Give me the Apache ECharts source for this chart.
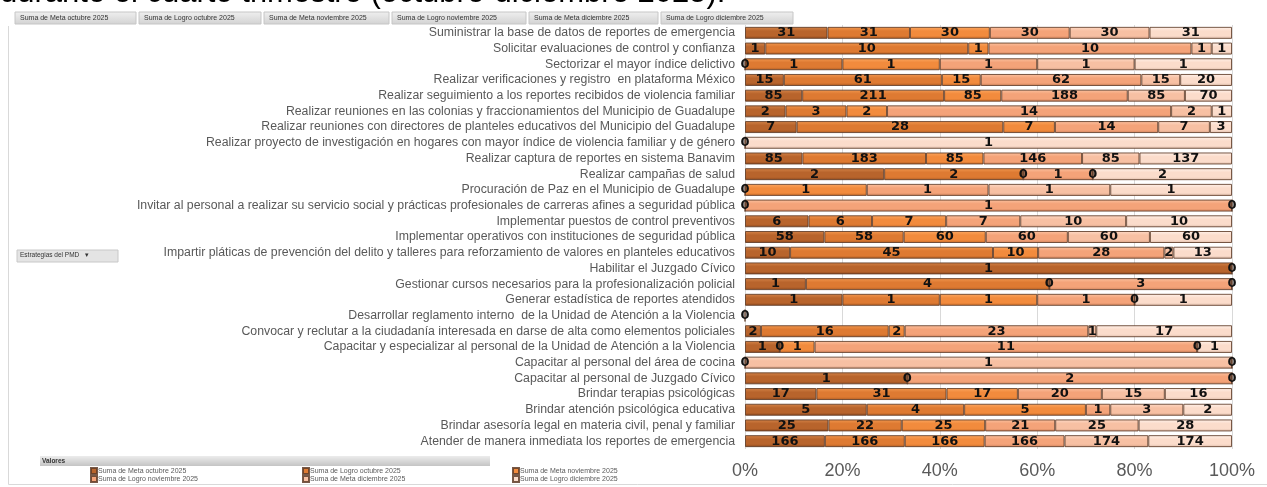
<!DOCTYPE html>
<html>
<head>
<meta charset="utf-8">
<script src="https://cdn.jsdelivr.net/npm/echarts@6/dist/echarts.min.js"></script>
<style>
html, body { margin: 0; padding: 0; background: #fff; }
#chart { width: 1267px; height: 487px; }
</style>
</head>
<body>
<div id="chart"></div>
<script>
// categorias de arriba hacia abajo
var categories = [
  "Suministrar la base de datos de reportes de emergencia",
  "Solicitar evaluaciones de control y confianza",
  "Sectorizar el mayor índice delictivo",
  "Realizar verificaciones y registro  en plataforma México",
  "Realizar seguimiento a los reportes recibidos de violencia familiar",
  "Realizar reuniones en las colonias y fraccionamientos del Municipio de Guadalupe",
  "Realizar reuniones con directores de planteles educativos del Municipio del Guadalupe",
  "Realizar proyecto de investigación en hogares con mayor índice de violencia familiar y de género",
  "Realizar captura de reportes en sistema Banavim",
  "Realizar campañas de salud",
  "Procuración de Paz en el Municipio de Guadalupe",
  "Invitar al personal a realizar su servicio social y prácticas profesionales de carreras afines a seguridad pública",
  "Implementar puestos de control preventivos",
  "Implementar operativos con instituciones de seguridad pública",
  "Impartir pláticas de prevención del delito y talleres para reforzamiento de valores en planteles educativos",
  "Habilitar el Juzgado Cívico",
  "Gestionar cursos necesarios para la profesionalización policial",
  "Generar estadística de reportes atendidos",
  "Desarrollar reglamento interno  de la Unidad de Atención a la Violencia",
  "Convocar y reclutar a la ciudadanía interesada en darse de alta como elementos policiales",
  "Capacitar y especializar al personal de la Unidad de Atención a la Violencia",
  "Capacitar al personal del área de cocina",
  "Capacitar al personal de Juzgado Cívico",
  "Brindar terapias psicológicas",
  "Brindar atención psicológica educativa",
  "Brindar asesoría legal en materia civil, penal y familiar",
  "Atender de manera inmediata los reportes de emergencia"
];

var seriesNames = [
  "Suma de Meta octubre 2025",
  "Suma de Logro octubre 2025",
  "Suma de Meta noviembre 2025",
  "Suma de Logro noviembre 2025",
  "Suma de Meta diciembre 2025",
  "Suma de Logro diciembre 2025"
];

var metaOct    = [31, 1, 0, 15, 85, 2, 7, 0, 85, 2, 0, 0, 6, 58, 10, 1, 1, 1, 0, 2, 1, 0, 1, 17, 5, 25, 166];
var logroOct   = [31, 10, 1, 61, 211, 3, 28, null, 183, 2, null, null, 6, 58, 45, 0, 4, 1, null, 16, 0, null, 0, 31, 4, 22, 166];
var metaNov    = [30, 1, 1, 15, 85, 2, 7, null, 85, 0, 1, null, 7, 60, 10, null, 0, 1, null, 2, 1, null, null, 17, 5, 25, 166];
var logroNov   = [30, 10, 1, 62, 188, 14, 14, null, 146, 1, 1, 1, 7, 60, 28, null, 3, 1, null, 23, 11, null, 2, 20, 1, 21, 166];
var metaDic    = [30, 1, 1, 15, 85, 2, 7, null, 85, 0, 1, null, 10, 60, 2, null, 0, 0, null, 1, 0, 1, null, 15, 3, 25, 174];
var logroDic   = [31, 1, 1, 20, 70, 1, 3, 1, 137, 2, 1, 0, 10, 60, 13, null, null, 1, null, 17, 1, 0, 0, 16, 2, 28, 174];

var xTicks = [0, 20, 40, 60, 80, 100];

var rawSeries = [metaOct, logroOct, metaNov, logroNov, metaDic, logroDic];

// colores con efecto bisel (arriba claro, abajo oscuro)
var shades = [
  ["#d58448", "#b8642c", "#8a461b"],
  ["#f2984f", "#de7a32", "#ad5a20"],
  ["#fca760", "#f28b3d", "#c56926"],
  ["#fcc2a0", "#f4a379", "#cd8059"],
  ["#fedac6", "#f7c0a3", "#d5a085"],
  ["#fff1e9", "#fbdccb", "#dcbba9"]
];

function grad(c) {
  return new echarts.graphic.LinearGradient(0, 0, 0, 1, [
    { offset: 0, color: c[0] },
    { offset: 0.35, color: c[1] },
    { offset: 0.75, color: c[1] },
    { offset: 1, color: c[2] }
  ]);
}

var totals = categories.map(function (c, i) {
  var t = 0;
  rawSeries.forEach(function (s) { if (s[i] != null) t += s[i]; });
  return t;
});

var series = rawSeries.map(function (arr, k) {
  return {
    name: seriesNames[k],
    type: "bar",
    stack: "total",
    barWidth: 12,
    data: arr.map(function (v, i) {
      if (v == null) return null;
      return totals[i] ? v / totals[i] * 100 : 0;
    }),
    itemStyle: {
      color: grad(shades[k]),
      borderColor: "rgba(95,60,40,0.85)",
      borderWidth: 1
    },
    label: {
      show: true,
      position: "inside",
      color: "#111",
      fontWeight: "bold",
      fontSize: 13,
      fontFamily: "DejaVu Sans",
      formatter: function (p) { return arr[p.dataIndex]; }
    }
  };
});

var btnX = [15, 139, 264, 392, 529, 661];
var btnW = [121, 122, 125, 134, 129, 132];
var graphics = [
  {
    type: "text", left: 0, top: -22,
    style: { text: "durante el cuarto trimestre (octubre-diciembre 2025).", fill: "#000", font: "31px Liberation Sans" }
  },
  {
    type: "polyline",
    shape: { points: [[8.5, 26], [8.5, 484.5], [1267, 484.5]] },
    style: { stroke: "#d9d9d9", fill: null, lineWidth: 1 }
  },
  {
    type: "rect", shape: { x: 17, y: 250, width: 101, height: 12 },
    style: { fill: "#e4e4e4", stroke: "#c8c8c8" }
  },
  {
    type: "text", left: 20, top: 252,
    style: { text: "Estrategias del PMD   ▾", fill: "#333", font: "6.5px Liberation Sans" }
  },
  {
    type: "rect", shape: { x: 40, y: 456, width: 450, height: 10 },
    style: {
      fill: new echarts.graphic.LinearGradient(0, 0, 0, 1, [
        { offset: 0, color: "#ececec" }, { offset: 1, color: "#c4c4c4" }
      ])
    }
  },
  {
    type: "text", left: 42, top: 458,
    style: { text: "Valores", fill: "#333", font: "bold 6.5px Liberation Sans" }
  }
];
btnX.forEach(function (x, i) {
  graphics.push({
    type: "rect", shape: { x: x, y: 12, width: btnW[i], height: 12 },
    style: {
      fill: new echarts.graphic.LinearGradient(0, 0, 0, 1, [
        { offset: 0, color: "#f0f0f0" }, { offset: 1, color: "#d2d2d2" }
      ]),
      stroke: "#c6c6c6"
    }
  });
  graphics.push({
    type: "text", left: x + 5, top: 15,
    style: { text: seriesNames[i], fill: "#333", font: "7px Liberation Sans" }
  });
});

// una leyenda por serie, en dos filas de tres columnas
var legendLeft = [90, 302, 512];
var legendTop = [467, 475];
var legends = seriesNames.map(function (name, i) {
  return {
    left: legendLeft[i % 3],
    top: legendTop[Math.floor(i / 3)],
    icon: "rect",
    itemWidth: 6,
    itemHeight: 6,
    itemGap: 2,
    selectedMode: false,
    padding: 0,
    data: [name],
    textStyle: { fontSize: 7, color: "#595959", fontFamily: "Liberation Sans", padding: [0, 0, 0, -4] }
  };
});

var chart = echarts.init(document.getElementById("chart"));
chart.setOption({
  animation: false,
  backgroundColor: "#fff",
  grid: { left: 745, right: 35, top: 25, bottom: 38, containLabel: false },
  legend: legends,
  xAxis: {
    type: "value",
    min: xTicks[0],
    max: xTicks[xTicks.length - 1],
    interval: xTicks[1] - xTicks[0],
    axisLine: { show: false },
    axisTick: { show: false },
    splitLine: { show: true, lineStyle: { color: "#d9d9d9", width: 1 } },
    axisLabel: {
      formatter: "{value}%",
      color: "#595959",
      fontSize: 18,
      fontFamily: "Liberation Sans",
      margin: 13
    }
  },
  yAxis: {
    type: "category",
    inverse: true,
    data: categories,
    axisLine: { show: false },
    axisTick: { show: false },
    axisLabel: {
      color: "#595959",
      fontSize: 12.3,
      fontFamily: "Liberation Sans",
      margin: 10,
      interval: 0
    }
  },
  series: series,
  graphic: graphics
});
</script>
</body>
</html>
